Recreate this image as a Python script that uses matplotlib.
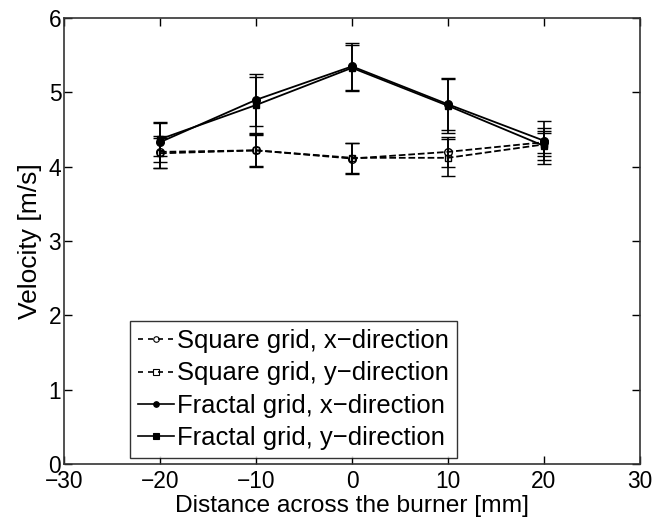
import matplotlib
matplotlib.use("Agg")
import matplotlib.pyplot as plt
from matplotlib.lines import Line2D
from matplotlib import font_manager

names = {f.name for f in font_manager.fontManager.ttflist}
if 'Liberation Sans Narrow' in names:
    NARROW = ['Liberation Sans Narrow', 'DejaVu Sans']
    k = 1.0
else:
    NARROW = ['Liberation Sans', 'DejaVu Sans']
    k = 0.82
plt.rcParams['font.family'] = NARROW

x = [-20, -10, 0, 10, 20]

sq_x = [4.20, 4.22, 4.11, 4.20, 4.33]
sq_x_err = [0.22, 0.22, 0.21, 0.20, 0.15]
sq_y = [4.18, 4.22, 4.12, 4.12, 4.30]
sq_y_err = [0.20, 0.21, 0.20, 0.25, 0.16]
fr_x = [4.33, 4.90, 5.35, 4.84, 4.35]
fr_x_err = [0.27, 0.35, 0.32, 0.35, 0.26]
fr_y = [4.37, 4.83, 5.33, 4.82, 4.28]
fr_y_err = [0.22, 0.38, 0.31, 0.36, 0.24]

labels = ["Square grid, x\u2212direction", "Square grid, y\u2212direction",
          "Fractal grid, x\u2212direction", "Fractal grid, y\u2212direction"]

fig = plt.figure(figsize=(6.56, 5.31), dpi=100)
ax = fig.add_axes([0.0976, 0.126, 0.878, 0.840])

kw = dict(color='black', capsize=5, elinewidth=1.2, capthick=1.2, linewidth=1.3)
specs = [
    (sq_x, sq_x_err, '--', 'o', 'none', 5.5),
    (sq_y, sq_y_err, '--', 's', 'none', 5),
    (fr_x, fr_x_err, '-', 'o', 'black', 5.5),
    (fr_y, fr_y_err, '-', 's', 'black', 5),
]
handles = []
for (vals, err, ls, mk, mfc, ms), lab in zip(specs, labels):
    ax.errorbar(x, vals, yerr=err, linestyle=ls, marker=mk, markersize=ms,
                markerfacecolor=mfc, markeredgewidth=1.0, **kw)
    handles.append(Line2D([], [], color='black', linestyle=ls, marker=mk,
                          markersize=4, markerfacecolor=mfc, markeredgewidth=0.8,
                          linewidth=1.2, dashes=(3, 3) if ls == '--' else (None, None),
                          label=lab))

ax.set_xlim(-30, 30)
ax.set_ylim(0, 6)
ax.set_xticks([-30, -20, -10, 0, 10, 20, 30])
ax.set_yticks([0, 1, 2, 3, 4, 5, 6])
ax.tick_params(direction='in', top=True, right=True, labelsize=20 * k,
               length=6, width=1)
ax.tick_params(axis='x', pad=4)
ax.tick_params(axis='y', pad=2)
for s in ax.spines.values():
    s.set_linewidth(1.2)
    s.set_color('#333333')
ax.set_xlabel("Distance across the burner [mm]", fontsize=21.5 * k, labelpad=2)
ax.set_ylabel("Velocity [m/s]", fontsize=19,
              family=['Liberation Sans', 'DejaVu Sans'], labelpad=5)

leg = ax.legend(handles=handles, loc='lower left', bbox_to_anchor=(0.1146, 0.0135),
                fontsize=22.5 * k, frameon=True, fancybox=False, edgecolor='black',
                handlelength=1.4, handletextpad=0.15, borderpad=0.3,
                labelspacing=0.33, borderaxespad=0)
leg.get_frame().set_linewidth(1.0)

fig.savefig("out.png", dpi=100)
